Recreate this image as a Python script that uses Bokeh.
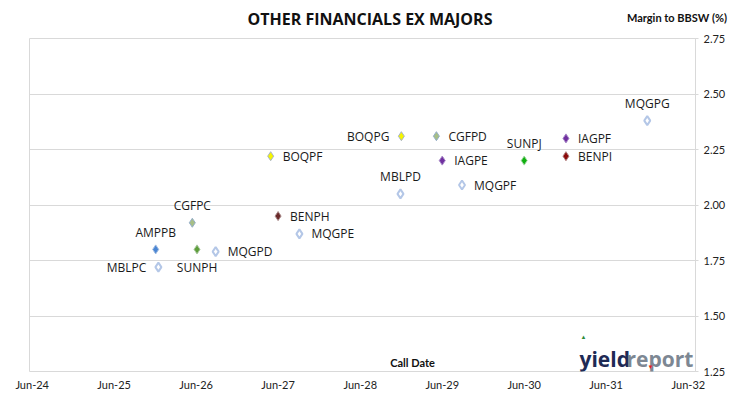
from datetime import datetime, timedelta
from bokeh.plotting import figure
from bokeh.models import (ColumnDataSource, FixedTicker, Range1d, Label,
                          NumeralTickFormatter, Div)
from bokeh.layouts import column
from bokeh.embed import file_html
from bokeh.resources import INLINE
from bokeh.core.properties import value

# ---- data ----
names = ["AMPPB", "MBLPC", "CGFPC", "SUNPH", "MQGPD", "BOQPF", "BENPH", "MQGPE",
         "MBLPD", "BOQPG", "CGFPD", "IAGPE", "MQGPF", "SUNPJ", "IAGPF", "BENPI", "MQGPG"]
call_dates = ["2025-12-03", "2025-12-15", "2026-05-15", "2026-06-05", "2026-08-27",
              "2027-04-29", "2027-06-01", "2027-09-04", "2028-11-27", "2028-12-01",
              "2029-05-06", "2029-06-01", "2029-08-28", "2030-06-01", "2030-12-04",
              "2030-12-04", "2031-12-01"]
margins = [1.80, 1.72, 1.92, 1.80, 1.79, 2.22, 1.95, 1.87,
           2.05, 2.31, 2.31, 2.20, 2.09, 2.20, 2.30, 2.22, 2.38]
x_tick_labels = ["Jun-24", "Jun-25", "Jun-26", "Jun-27", "Jun-28",
                 "Jun-29", "Jun-30", "Jun-31", "Jun-32"]
y_ticks = [1.25, 1.50, 1.75, 2.00, 2.25, 2.50, 2.75]
title_text = "OTHER FINANCIALS EX MAJORS"
y_title_text = "Margin to BBSW (%)"
x_title_text = "Call Date"

# ---- styles ----
LFONT = "Open Sans"
AFONT = "Lato"
issuer_style = {
    "AMP": ("#4A86D4", "#9DB9E0"),
    "MBL": ("white", "#B4C7E7"),
    "MQG": ("white", "#B4C7E7"),
    "CGF": ("#A7BF86", "#94AECB"),
    "SUNPH": ("#5E9E3A", "#A9C7A0"),
    "SUNPJ": ("#10B010", "#9FD89F"),
    "BOQ": ("#F5F500", "#A8B4C8"),
    "BENPH": ("#6B2A2A", "#A88A8A"),
    "BENPI": ("#8C0A0A", "#B08080"),
    "IAG": ("#7030A0", "#A888C8"),
}
placement = {
    "AMPPB": "above", "MBLPC": "left", "CGFPC": "above", "SUNPH": "below",
    "MQGPD": "right", "BOQPF": "right", "BENPH": "right", "MQGPE": "right",
    "MBLPD": "above", "BOQPG": "left", "CGFPD": "right", "IAGPE": "right",
    "MQGPF": "right", "SUNPJ": "above", "IAGPF": "right", "BENPI": "right",
    "MQGPG": "above",
}
place_map = {"above": (0, -17, "center"), "below": (0, 18, "center"),
             "left": (-12, 0, "right"), "right": (12, 0, "left")}


def style_for(n):
    return issuer_style.get(n, issuer_style.get(n[:3]))


xs = [datetime.strptime(d, "%Y-%m-%d") for d in call_dates]
fills = [style_for(n)[0] for n in names]
lines = [style_for(n)[1] for n in names]
hollow = [n[:3] in ("MBL", "MQG") for n in names]
xo = [place_map[placement[n]][0] for n in names]
yo = [place_map[placement[n]][1] for n in names]
al = [place_map[placement[n]][2] for n in names]

src = ColumnDataSource(dict(x=xs, y=margins, name=names, fill=fills, line=lines,
                            xo=xo, yo=yo, al=al,
                            lw=[2.0 if h else 1.0 for h in hollow]))

W, H_TOP, H = 730, 30, 369
x_start = datetime(2024, 5, 20)
x_end = x_start + timedelta(days=365.25 * 8.12)

p = figure(width=W, height=H, output_backend="svg", toolbar_location=None,
           title=None, x_axis_type="datetime",
           x_range=Range1d(x_start, x_end), y_range=Range1d(1.25, 2.75),
           min_border_left=29, min_border_right=35, min_border_top=8,
           min_border_bottom=28, y_axis_location="right")
p.background_fill_color = "white"
p.border_fill_color = "white"
p.outline_line_color = "#D9D9D9"
p.outline_line_width = 1

tick_dates = [datetime(2024 + i, 6, 1) for i in range(len(x_tick_labels))]
tick_ms = [d.timestamp() * 1000 for d in tick_dates]
xa = p.xaxis[0]
xa.ticker = FixedTicker(ticks=tick_ms)
xa.major_label_overrides = {t: lab for t, lab in zip(tick_ms, x_tick_labels)}
xa.axis_line_color = None
xa.major_tick_line_color = None
xa.major_tick_out = 0
xa.major_tick_in = 0
xa.minor_tick_line_color = None
xa.minor_tick_out = 0
xa.major_label_text_font = AFONT
xa.major_label_text_font_size = "11px"
xa.major_label_text_color = "#222222"
xa.major_label_standoff = 6

ya = p.yaxis[0]
ya.ticker = FixedTicker(ticks=y_ticks)
ya.formatter = NumeralTickFormatter(format="0.00")
ya.axis_line_color = "#D9D9D9"
ya.major_tick_line_color = "#D9D9D9"
ya.major_tick_out = 3
ya.major_tick_in = 0
ya.minor_tick_line_color = None
ya.major_label_text_font = AFONT
ya.major_label_text_font_size = "11px"
ya.major_label_text_color = "#222222"
ya.major_label_standoff = 5

p.xgrid.grid_line_color = None
p.ygrid.grid_line_color = "#D9D9D9"
p.ygrid.ticker = FixedTicker(ticks=y_ticks)

p.scatter("x", "y", source=src, marker="diamond", size=9,
          fill_color="fill", line_color="line", line_width="lw")

p.text("x", "y", text="name", source=src, x_offset="xo", y_offset="yo",
       text_align="al", text_baseline="middle",
       text_font=value(LFONT), text_font_size="12px", text_color="#1a1a1a")

# annotations inside the frame (screen units relative to frame)
p.add_layout(Label(x=383, y=9, x_units="screen", y_units="screen",
                   text=x_title_text, text_font=AFONT,
                   text_font_style="bold", text_font_size="11px",
                   text_align="center", text_baseline="middle", text_color="#111111"))
p.add_layout(Label(x=550, y=13, x_units="screen", y_units="screen",
                   text="yield", text_font="Open Sans",
                   text_font_style="bold", text_font_size="21px",
                   text_align="left", text_baseline="alphabetic", text_color="#1E2A55"))
p.add_layout(Label(x=597, y=13, x_units="screen", y_units="screen",
                   text="report", text_font="Open Sans",
                   text_font_style="bold", text_font_size="21px",
                   text_align="left", text_baseline="alphabetic", text_color="#7D8793"))
p.add_layout(Label(x=554, y=35, x_units="screen", y_units="screen",
                   text="\u25B2", text_font_size="6px", text_color="#2E8B3A",
                   text_align="center", text_baseline="middle"))
p.add_layout(Label(x=621, y=5, x_units="screen", y_units="screen",
                   text="\u25BC", text_font_size="6px", text_color="#E02020",
                   text_align="center", text_baseline="middle"))

header = Div(
    text=(
        f'<div style="position:relative;width:{W}px;height:{H_TOP}px;color:#111;">'
        f'<span style="position:absolute;left:0;width:740px;top:9px;text-align:center;'
        f"font-family:'Open Sans',sans-serif;"
        f'font-weight:bold;font-size:16px;line-height:20px;white-space:nowrap">{title_text}</span>'
        f'<span style="position:absolute;right:3px;top:11px;font-weight:bold;font-size:11px;'
        f"font-family:'Lato',sans-serif;"
        f'line-height:14px;white-space:nowrap">{y_title_text}</span>'
        f'</div>'
    ),
    width=W, height=H_TOP, margin=0)

layout = column(header, p, spacing=0)
open("out.html", "w").write(file_html(layout, INLINE))
